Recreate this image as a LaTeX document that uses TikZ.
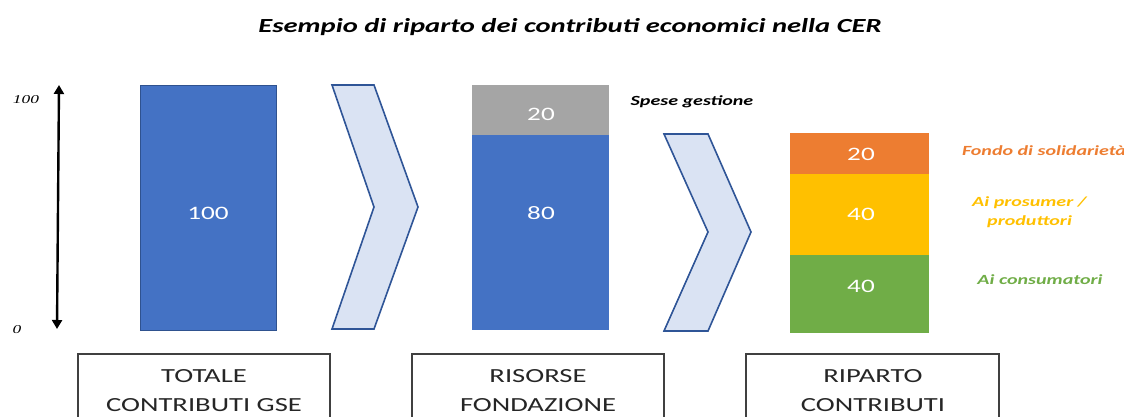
\documentclass[tikz,border=0pt]{standalone}
\usepackage{fontspec}
\setmainfont[FakeStretch=1.43]{Carlito}
\newfontfamily\axisfont[FakeStretch=1.45]{Liberation Serif}
\usetikzlibrary{arrows.meta}
\definecolor{cblue}{HTML}{4472C4}
\definecolor{cbluedark}{HTML}{2F528F}
\definecolor{cgray}{HTML}{A5A5A5}
\definecolor{corange}{HTML}{ED7D31}
\definecolor{cyellow}{HTML}{FFC000}
\definecolor{cgreen}{HTML}{70AD47}
\definecolor{cchev}{HTML}{DAE3F3}
\definecolor{cchevline}{HTML}{2F5597}
\begin{document}
\begin{tikzpicture}[x=1pt,y=-1pt,
  barlabel/.style={text=white,font=\fontsize{19}{19}\selectfont},
  chev/.style={fill=cchev,draw=cchevline,line width=1.6pt,line join=miter},
  stagebox/.style={draw=black!75,line width=1.5pt,fill=white},
  stagetext/.style={align=center,font=\fontsize{20}{29}\selectfont,text=black!85},
  sidelabel/.style={font=\bfseries\itshape\fontsize{14}{19}\selectfont,align=left}]
\useasboundingbox (0,0) rectangle (1124,417);
% title
\node[font=\bfseries\itshape\fontsize{20}{22}\selectfont] (title) at (570,27) {Esempio di riparto dei contributi economici nella CER};
% axis
\coordinate (axtop) at (59,85);
\coordinate (axbot) at (57,329);
\draw[line width=2.4pt,{Triangle[length=9pt,width=10pt]}-{Triangle[length=9pt,width=10pt]}] (axtop) -- (axbot);
\node[font=\axisfont\itshape\fontsize{12}{12}\selectfont] (l100) at (26,100) {100};
\node[font=\axisfont\itshape\fontsize{12}{12}\selectfont] (l0) at (17,330) {0};
% bar 1
\node[draw=cbluedark,line width=1.2pt,fill=cblue,minimum width=136pt,minimum height=245pt,anchor=north west,inner sep=0pt] (bar1) at (140,85) {};
\node[barlabel] (v100) at (208,213) {100};
% chevron 1
\filldraw[chev] (332,85) -- (374,85) -- (418,207) -- (374,329) -- (332,329) -- (374,207) -- cycle;
% bar 2
\fill[cgray] (472,85) rectangle (609,135);
\fill[cblue] (472,135) rectangle (609,330);
\node[barlabel] (v20a) at (541,114) {20};
\node[barlabel] (v80) at (541,213) {80};
\node[sidelabel,text=black] (spese) at (692,102) {Spese gestione};
% chevron 2
\filldraw[chev] (664,134) -- (708,134) -- (751,232) -- (708,331) -- (664,331) -- (708,232) -- cycle;
% bar 3
\fill[corange] (790,133) rectangle (929,174);
\fill[cyellow] (790,174) rectangle (929,255);
\fill[cgreen] (790,255) rectangle (929,333);
\node[barlabel] (v20b) at (861,154) {20};
\node[barlabel] (v40a) at (861,214) {40};
\node[barlabel] (v40b) at (861,286) {40};
\node[sidelabel,text=corange] (fondo) at (1044,151) {Fondo di solidarietà};
\node[sidelabel,text=cyellow,anchor=west,inner sep=0pt] (pros) at (972,212) {Ai prosumer /\\\hspace*{15pt}produttori};
\node[sidelabel,text=cgreen] (cons) at (1040,280) {Ai consumatori};
% bottom boxes
\draw[stagebox] (78,354) rectangle (330,440);
\node[stagetext] (s1) at (204,391) {TOTALE\\CONTRIBUTI GSE};
\draw[stagebox] (412,354) rectangle (664,440);
\node[stagetext] (s2) at (538,391) {RISORSE\\FONDAZIONE};
\draw[stagebox] (746,354) rectangle (999,440);
\node[stagetext] (s3) at (873,391) {RIPARTO\\CONTRIBUTI};
\end{tikzpicture}
\end{document}
